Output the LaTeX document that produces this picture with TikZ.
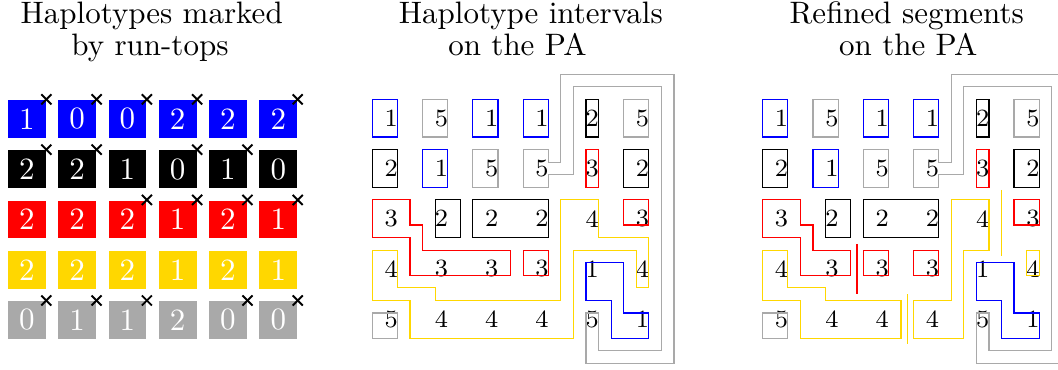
\documentclass[tikz,border=0pt]{standalone}
\definecolor{hblue}{RGB}{0,0,255}
\definecolor{hred}{RGB}{255,0,0}
\definecolor{hgold}{RGB}{255,215,0}
\definecolor{hgray}{RGB}{169,169,169}
\begin{document}
\begin{tikzpicture}[x=0.32258pt,y=-0.32258pt,
  ttl/.style={font=\fontsize{10pt}{10pt}\selectfont, inner sep=0pt, anchor=base},
  lcell/.style={minimum width=12.164pt, minimum height=12.164pt, inner sep=0pt, text=white, font=\fontsize{10pt}{12pt}\selectfont},
  xmark/.style={line width=0.62pt, draw=black},
  dig/.style={inner sep=0pt, font=\fontsize{8pt}{9.6pt}\selectfont},
  seg/.style={line width=0.4pt},
  blueline/.style={seg, draw=hblue},
  blackline/.style={seg, draw=black},
  redline/.style={seg, draw=hred},
  goldline/.style={seg, draw=hgold},
  grayline/.style={seg, draw=hgray},
]
\useasboundingbox (0,0) rectangle (1058,369);
\clip (0,0) rectangle (1058,369);

% titles
\node[ttl] (t1a) at (151.7,24) {Haplotypes marked};
\node[ttl] (t1b) at (150,55) {by run-tops};
\node[ttl, anchor=base west] (t2a) at (398.3,24) {Haplotype intervals};
\node[ttl] (t2b) at (517.5,55) {on the PA};
\node[ttl] (t3a) at (906.7,24) {Refined segments};
\node[ttl] (t3b) at (908.3,55) {on the PA};

% left panel
\begin{scope}[shift={(8,100)}, x=4.0548pt, y=-4.0548pt]
\foreach \r/\cl/\vals in {0/hblue/{1,0,0,2,2,2}, 1/black/{2,2,1,0,1,0}, 2/hred/{2,2,2,1,2,1}, 3/hgold/{2,2,2,1,2,1}, 4/hgray/{0,1,1,2,0,0}}{
  \foreach \v [count=\c from 0] in \vals {
    \node[lcell, fill=\cl] (L\r\c) at (4*\c+1.5, 4*\r+1.5) {\v};
  }
}
\foreach \r/\c in {0/0,0/1,0/2,0/3,0/5, 1/0,1/1,1/3,1/4, 2/2,2/3,2/4,2/5, 4/0,4/1,4/2,4/4,4/5}{
  \draw[xmark] ([shift={(-0.4,-0.4)}]L\r\c.north east) -- ([shift={(0.4,0.4)}]L\r\c.north east);
  \draw[xmark] ([shift={(-0.4,0.4)}]L\r\c.north east) -- ([shift={(0.4,-0.4)}]L\r\c.north east);
}
\end{scope}

% shared parts of the two PA panels
\foreach \px/\P in {372.3/M, 762.7/R}{
\begin{scope}[shift={(\px,99.3)}, x=4.0548pt, y=-4.0548pt]
  \foreach \r/\vals in {0/{1,5,1,1,2,5},1/{2,1,5,5,3,2},2/{3,2,2,2,4,3},3/{4,3,3,3,1,4},4/{5,4,4,4,5,1}}{
    \foreach \v [count=\c from 0] in \vals {
      \node[dig] (\P\r\c) at (4*\c+1.5, 4*\r+1.5) {\v};
    }
  }
  \draw[grayline] (4,0) rectangle (6,3) (20,0) rectangle (22,3) (8,4) rectangle (10,7) (0,17) rectangle (2,19);
  \draw[grayline] (12,4) -- (14,4) -- (14,5) -- (15,5) -- (15,-2) -- (24,-2) -- (24,21) -- (17,21) -- (17,17) -- (18,17) -- (18,20) -- (23,20) -- (23,-1) -- (16,-1) -- (16,6) -- (14,6) -- (14,7) -- (12,7) -- cycle;
  \draw[blueline] (0,0) rectangle (2,3) (8,0) rectangle (10,3) (12,0) rectangle (14,3) (4,4) rectangle (6,7);
  \draw[blueline] (17,13) -- (20,13) -- (20,17) -- (22,17) -- (22,19) -- (19,19) -- (19,16) -- (17,16) -- cycle;
  \draw[blackline] (17,0) rectangle (18,3) (0,4) rectangle (2,7) (20,4) rectangle (22,7) (5,8) rectangle (7,11) (8,8) rectangle (14,11);
  \draw[redline] (17,4) rectangle (18,7) (20,8) rectangle (22,10) (12,12) rectangle (14,14);
\end{scope}
}

% middle panel: intervals
\begin{scope}[shift={(372.3,99.3)}, x=4.0548pt, y=-4.0548pt]
  \draw[redline] (0,8) -- (3,8) -- (3,10) -- (4,10) -- (4,12) -- (11,12) -- (11,14) -- (3,14) -- (3,11) -- (0,11) -- cycle;
  \draw[goldline] (15,8) -- (18,8) -- (18,11) -- (22,11) -- (22,15) -- (21,15) -- (21,12) -- (16,12) -- (16,19) -- (3,19) -- (3,16) -- (0,16) -- (0,12) -- (2,12) -- (2,15) -- (5,15) -- (5,16) -- (15,16) -- cycle;
\end{scope}

% right panel: refined segments
\begin{scope}[shift={(762.7,99.3)}, x=4.0548pt, y=-4.0548pt]
  \draw[redline] (0,8) -- (3,8) -- (3,10) -- (4,10) -- (4,12) -- (7,12) -- (7,14) -- (3,14) -- (3,11) -- (0,11) -- cycle;
  \draw[redline] (8,12) rectangle (10,14);
  \draw[redline] (7.5,11.5) -- (7.5,15.5);
  \draw[goldline] (0,12) -- (2,12) -- (2,15) -- (5,15) -- (5,16) -- (11,16) -- (11,19) -- (3,19) -- (3,16) -- (0,16) -- cycle;
  \draw[goldline] (12,19) -- (12,16) -- (15,16) -- (15,8) -- (18,8) -- (18,12) -- (16,12) -- (16,19) -- cycle;
  \draw[goldline] (21,12) rectangle (22,14);
  \draw[goldline] (11.5,15.5) -- (11.5,19.5);
  \draw[goldline] (19,7.2) -- (19,12.5);
\end{scope}
\end{tikzpicture}
\end{document}
